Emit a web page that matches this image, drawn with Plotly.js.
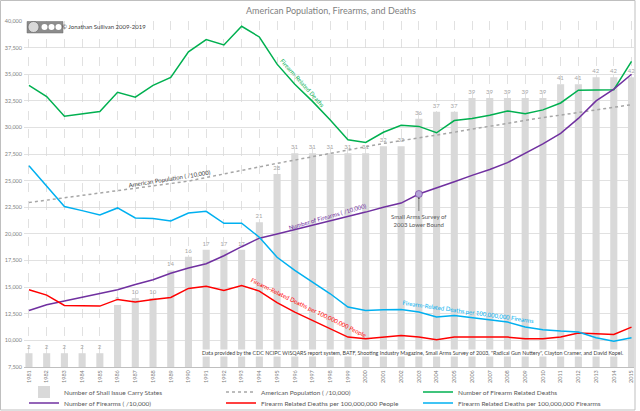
<!DOCTYPE html>
<html>
<head>
<meta charset="utf-8">
<script src="https://cdn.plot.ly/plotly-3.0.1.min.js"></script>
<style>
  html, body { margin: 0; padding: 0; background: #fff; }
  #chart { width: 640px; height: 411px; }
</style>
</head>
<body>
<div id="chart"></div>
<script>
// Values
let years = ['1981', '1982', '1983', '1984', '1985', '1986', '1987', '1988', '1989', '1990',
    '1991', '1992', '1993', '1994', '1995', '1996', '1997', '1998', '1999', '2000',
    '2001', '2002', '2003', '2004', '2005', '2006', '2007', '2008', '2009', '2010',
    '2011', '2012', '2013', '2014', '2015'];

let shallIssueStates = [2, 2, 2, 2, 2, 9, 10, 10, 14, 16,
    17, 17, 17, 21, 28, 31, 31, 31, 31, 31,
    32, 32, 36, 37, 37, 39, 39, 39, 39, 39,
    41, 41, 42, 42, 42];

let population = [22950, 23170, 23380, 23580, 23790, 24010, 24230, 24450, 24680, 24960,
    25300, 25650, 25990, 26310, 26630, 26940, 27260, 27590, 27900, 28220,
    28500, 28760, 29010, 29280, 29550, 29840, 30120, 30410, 30680, 30930,
    31160, 31390, 31610, 31890, 32140];

let deaths = [33950, 32900, 31050, 31250, 31500, 33300, 32850, 33950, 34700, 37100,
    38250, 37750, 39500, 38500, 35950, 34050, 32450, 30700, 28850, 28600,
    29550, 30200, 30100, 29500, 30650, 30850, 31150, 31550, 31300, 31650,
    32300, 33500, 33550, 33550, 36200];

let firearms = [12800, 13350, 13700, 14050, 14400, 14750, 15250, 15700, 16300, 16800,
    17200, 17950, 18800, 19600, 20000, 20400, 20800, 21200, 21650, 22050,
    22500, 22900, 23750, 24300, 24900, 25500, 26050, 26700, 27600, 28450,
    29450, 30850, 32500, 33600, 35000];

let deathsPerPeople = [14760, 14250, 13280, 13280, 13220, 13850, 13600, 13850, 14030, 14880,
    15090, 14690, 15160, 14630, 13540, 12660, 11880, 11160, 10310, 10160,
    10310, 10470, 10310, 10070, 10310, 10310, 10310, 10310, 10160, 10160,
    10310, 10690, 10620, 10560, 11250];

let deathsPerFirearms = [26400, 24530, 22570, 22190, 21790, 22440, 21500, 21440, 21220, 21970,
    22120, 21000, 21000, 19690, 17810, 16570, 15470, 14380, 13130, 12810,
    12880, 12910, 12660, 12190, 12340, 12130, 11940, 11720, 11250, 11000,
    10870, 10780, 10250, 9910, 10250];

let surveyIndex = years.indexOf('2003');

// Plot area in pixels, used to place the decorations
let margin = {l: 24, r: 6, t: 21, b: 44};
let plotW = 640 - margin.l - margin.r;
let plotH = 411 - margin.t - margin.b;
function px(x) { return (x - margin.l) / plotW; }
function py(y) { return (411 - margin.b - y) / plotH; }

let fontFamily = 'Lato, "Liberation Sans", sans-serif';

let bars = {
    x: years,
    y: shallIssueStates,
    type: 'bar',
    name: 'Number of Shall Issue Carry States',
    marker: {color: '#d9d9d9'},
    text: shallIssueStates.map(String),
    textposition: 'outside',
    textfont: {size: 6, color: '#a6a6a6'},
    constraintext: 'none',
    cliponaxis: false,
    yaxis: 'y',
    legend: 'legend'
};

function line(values, name, color, dash, legend) {
    return {
        x: years,
        y: values,
        type: 'scatter',
        mode: 'lines',
        name: name,
        line: {color: color, width: 1.5, dash: dash},
        yaxis: 'y2',
        legend: legend
    };
}

let data = [
    bars,
    line(population, 'American Population ( /10,000)', '#a6a6a6', 'dot', 'legend'),
    line(deaths, 'Number of Firearm Related Deaths', '#00b050', 'solid', 'legend'),
    line(firearms, 'Number of Firearms ( /10,000)', '#7030a0', 'solid', 'legend2'),
    line(deathsPerPeople, 'Firearm Related Deaths per 100,000,000 People', '#ff0000', 'solid', 'legend2'),
    line(deathsPerFirearms, 'Firearm Related Deaths per 100,000,000 Firearms', '#00b0f0', 'solid', 'legend2'),
    {
        x: [years[surveyIndex]],
        y: [firearms[surveyIndex]],
        type: 'scatter',
        mode: 'markers',
        marker: {size: 7, color: '#b4a7d6', line: {color: '#7030a0', width: 0.6}},
        yaxis: 'y2',
        showlegend: false
    }
];

function note(text, x, y, color, angle, size) {
    return {
        text: text, xref: 'paper', yref: 'paper', x: px(x), y: py(y),
        xanchor: 'center', yanchor: 'middle',
        showarrow: false, textangle: angle,
        font: {family: fontFamily, size: size || 6, color: color}
    };
}

let legendStyle = {
    orientation: 'h',
    xref: 'container',
    yref: 'container',
    x: 24 / 640,
    xanchor: 'left',
    yanchor: 'middle',
    entrywidth: 152,
    itemwidth: 30,
    font: {family: fontFamily, size: 6.5, color: '#595959'},
    bgcolor: 'rgba(0,0,0,0)'
};

// Layout of the chart
let layout = {
    width: 640,
    height: 411,
    margin: margin,
    paper_bgcolor: '#ffffff',
    plot_bgcolor: '#ffffff',
    font: {family: fontFamily, color: '#595959'},
    title: {
        text: 'American Population, Firearms, and Deaths',
        font: {family: fontFamily, size: 9, color: '#7f7f7f'},
        xref: 'container', yref: 'container',
        x: 331 / 640, y: 1 - 11 / 411,
        xanchor: 'center', yanchor: 'middle'
    },
    bargap: 0.6,
    xaxis: {
        type: 'category',
        range: [-0.28, 34.14],
        automargin: false,
        showgrid: true,
        gridcolor: '#d9d9d9',
        griddash: 'dash',
        gridwidth: 0.8,
        showline: true,
        linecolor: '#bfbfbf',
        linewidth: 1,
        ticks: '',
        tickangle: -90,
        tickfont: {family: fontFamily, size: 5.5, color: '#7f7f7f'},
        fixedrange: true
    },
    yaxis: {
        range: [0, 50.17],
        side: 'right',
        automargin: false,
        showgrid: false,
        zeroline: false,
        showticklabels: false,
        fixedrange: true
    },
    yaxis2: {
        overlaying: 'y',
        side: 'left',
        automargin: false,
        range: [7500, 40000],
        dtick: 2500,
        tick0: 7500,
        tickformat: ',',
        showgrid: true,
        gridcolor: '#d9d9d9',
        gridwidth: 0.8,
        zeroline: false,
        ticks: '',
        ticklabelstandoff: 1,
        tickfont: {family: fontFamily, size: 5.5, color: '#7f7f7f'},
        fixedrange: true
    },
    legend: Object.assign({y: 1 - 392 / 411}, legendStyle),
    legend2: Object.assign({y: 1 - 403 / 411}, legendStyle),
    annotations: [
        note('Firearm-Related Deaths', 302, 83, '#00b050', 48),
        note('American Population ( /10,000)', 169, 178, '#404040', -9),
        note('Number of Firearms ( /10,000)', 327, 216, '#7030a0', -16),
        note('Firearm-Related Deaths per 100,000,000 People', 309, 307, '#ff0000', 26),
        note('Firearm-Related Deaths per 100,000,000 Firearms', 468, 311, '#00b0f0', 8),
        note('\u00a9 Jonathan Sullivan 2009-2019', 104, 26, '#404040', 0),
        {
            text: 'Data provided by the CDC NCIPC WISQARS report system, BATF, Shooting Industry Magazine, Small Arms Survey of 2003, "Radical Gun Nuttery", Clayton Cramer, and David Kopel.',
            xref: 'paper', yref: 'paper', x: px(412), y: py(353),
            xanchor: 'center', yanchor: 'middle',
            showarrow: false, bgcolor: '#ffffff', borderpad: 0,
            font: {family: fontFamily, size: 5.35, color: '#404040'}
        },
        {
            // category axes place annotations by category index
            text: 'Small Arms Survey of<br>2003 Lower Bound',
            x: surveyIndex, y: firearms[surveyIndex], xref: 'x', yref: 'y2',
            showarrow: true, arrowhead: 2, arrowsize: 0.6, arrowwidth: 0.7,
            arrowcolor: '#595959', ax: 0, ay: 26, standoff: 3,
            font: {family: fontFamily, size: 6, color: '#595959'}
        }
    ],
    shapes: [
        // outer frame
        {type: 'rect', xref: 'paper', yref: 'paper', x0: px(0.5), x1: px(635), y0: py(410), y1: py(0.5),
            line: {color: '#bfbfbf', width: 1}},
        // CC BY-NC-SA badge
        {type: 'rect', xref: 'paper', yref: 'paper', x0: px(27), x1: px(63), y0: py(33), y1: py(21.5),
            fillcolor: '#8c8c8c', line: {color: '#6d6d6d', width: 0.5}},
        {type: 'circle', xref: 'paper', yref: 'paper', x0: px(28), x1: px(39), y0: py(32.5), y1: py(21.5),
            fillcolor: '#d9d9d9', line: {color: '#595959', width: 0.6}},
        {type: 'circle', xref: 'paper', yref: 'paper', x0: px(41.5), x1: px(47.5), y0: py(30), y1: py(24),
            fillcolor: '#ffffff', line: {width: 0}},
        {type: 'circle', xref: 'paper', yref: 'paper', x0: px(48.5), x1: px(54.5), y0: py(30), y1: py(24),
            fillcolor: '#ffffff', line: {width: 0}},
        {type: 'circle', xref: 'paper', yref: 'paper', x0: px(55.5), x1: px(61.5), y0: py(30), y1: py(24),
            fillcolor: '#ffffff', line: {width: 0}}
    ]
};

// General chart configuration
let config = {
    displayModeBar: false,
    staticPlot: true
};

let htmlElement = document.getElementById('chart');
Plotly.newPlot(htmlElement, data, layout, config);
</script>
</body>
</html>
